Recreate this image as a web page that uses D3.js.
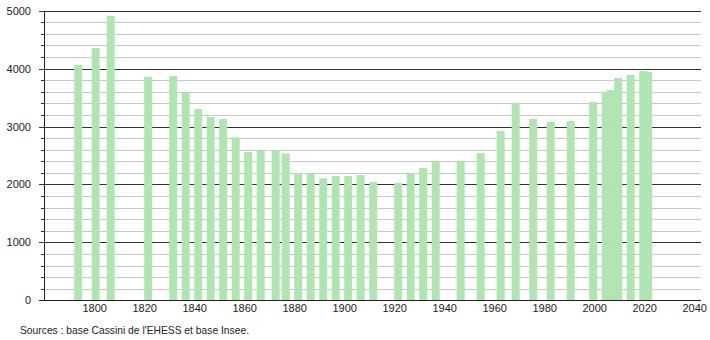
<!DOCTYPE html>
<html>
<head>
<meta charset="utf-8">
<script src="https://cdn.jsdelivr.net/npm/d3@7"></script>
<style>
html,body{margin:0;padding:0;background:#fff;}
svg{display:block;font-family:"Liberation Sans",Arial,Helvetica,sans-serif;}
</style>
</head>
<body>
<svg id="chart" width="710" height="340"></svg>
<script>
const years = [1793,1800,1806,1821,1831,1836,1841,1846,1851,1856,1861,1866,1872,1876,1881,1886,1891,1896,1901,1906,1911,1921,1926,1931,1936,1946,1954,1962,1968,1975,1982,1990,1999,2004,2006,2009,2014,2019,2021];
const population = [4060,4355,4912,3855,3872,3585,3303,3165,3130,2812,2560,2583,2583,2538,2182,2190,2106,2146,2146,2163,2042,2025,2184,2284,2390,2390,2543,2923,3401,3130,3078,3095,3425,3591,3631,3838,3890,3958,3940];
const yMajorTicks = [0,1000,2000,3000,4000,5000];
const xTicks = [1800,1820,1840,1860,1880,1900,1920,1940,1960,1980,2000,2020,2040];
const sourceText = "Sources : base Cassini de l'EHESS et base Insee.";

const svg = d3.select("#chart");
const x = d3.scaleLinear().domain([1780, 2040]).range([45.7, 695.7]);
const y = d3.scaleLinear().domain([0, 5000]).range([300.3, 10.7]);
const left = 44, right = 701;

const minorTicks = d3.range(0, 5001, 200).filter(v => v % 1000 !== 0);

// minor grid
svg.append("g").selectAll("line").data(minorTicks).join("line")
  .attr("x1", left).attr("x2", right)
  .attr("y1", d => Math.round(y(d)) + 0.5).attr("y2", d => Math.round(y(d)) + 0.5)
  .attr("stroke", "#c8c8c8").attr("stroke-width", 1);
// minor ticks
svg.append("g").selectAll("line").data(minorTicks).join("line")
  .attr("x1", left - 3).attr("x2", left)
  .attr("y1", d => Math.round(y(d)) + 0.5).attr("y2", d => Math.round(y(d)) + 0.5)
  .attr("stroke", "#333").attr("stroke-width", 1);
// major grid
svg.append("g").selectAll("line").data(yMajorTicks).join("line")
  .attr("x1", left - 5).attr("x2", right)
  .attr("y1", d => Math.round(y(d)) + 0.5).attr("y2", d => Math.round(y(d)) + 0.5)
  .attr("stroke", "#333").attr("stroke-width", 1);

// bars
svg.append("g").selectAll("rect").data(years).join("rect")
  .attr("x", (d) => x(d) - 4)
  .attr("width", 8)
  .attr("y", (d, i) => y(population[i]))
  .attr("height", (d, i) => y(0) - y(population[i]))
  .attr("fill", "#b0e4b0");

// bottom axis line
svg.append("line")
  .attr("x1", left - 5).attr("x2", right)
  .attr("y1", Math.round(y(0)) + 0.5).attr("y2", Math.round(y(0)) + 0.5)
  .attr("stroke", "#222").attr("stroke-width", 1);
// y axis line
svg.append("line")
  .attr("x1", left + 0.5).attr("x2", left + 0.5)
  .attr("y1", y(5000)).attr("y2", y(0))
  .attr("stroke", "#222").attr("stroke-width", 1);

// y labels
svg.append("g").selectAll("text").data(yMajorTicks).join("text")
  .attr("x", 31).attr("y", d => y(d) + 4)
  .attr("text-anchor", "end")
  .attr("font-size", 11).attr("fill", "#222")
  .text(d => d);

// x labels
svg.append("g").selectAll("text").data(xTicks).join("text")
  .attr("x", d => x(d) - 1).attr("y", 312)
  .attr("text-anchor", "middle")
  .attr("font-size", 11).attr("fill", "#222")
  .text(d => d);

svg.append("text")
  .attr("x", 20).attr("y", 334)
  .attr("font-size", 10.5).attr("fill", "#222")
  .attr("textLength", 229).attr("lengthAdjust", "spacingAndGlyphs")
  .text(sourceText);
</script>
</body>
</html>
